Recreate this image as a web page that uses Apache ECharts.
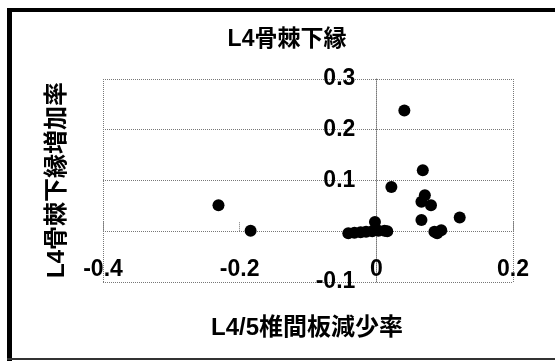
<!DOCTYPE html>
<html>
<head>
<meta charset="utf-8">
<script src="https://cdn.jsdelivr.net/npm/echarts@6/dist/echarts.min.js"></script>
<style>html,body{margin:0;padding:0;background:#fff}#c{width:555px;height:361px}</style>
</head>
<body>
<div id="c"></div>
<script>
var titleText = 'L4骨棘下縁';
var xName = 'L4/5椎間板減少率';
var yName = 'L4骨棘下縁増加率';
var xValues = [-0.231, -0.184, -0.041, -0.032, -0.023, -0.015, -0.006, 0.003, 0.012, 0.016, -0.002, 0.022, 0.041, 0.068, 0.071, 0.066, 0.080, 0.066, 0.122, 0.085, 0.095, 0.089];
var yValues = [0.051, 0.001, -0.004, -0.003, -0.002, -0.001, 0.000, 0.001, 0.001, 0.000, 0.018, 0.087, 0.238, 0.120, 0.071, 0.058, 0.051, 0.022, 0.027, -0.001, 0.002, -0.004];
var xTicks = [-0.4, -0.2, 0, 0.2];
var yTicks = [-0.1, 0, 0.1, 0.2, 0.3];

var pts = xValues.map(function (x, i) { return [x, yValues[i]]; });
var FONT = "'Liberation Sans','Noto Sans CJK JP',sans-serif";
var grid = '#777';

var G = { left: 103, right: 42, top: 79, bottom: 79 };
var W = 555 - G.left - G.right, H = 361 - G.top - G.bottom;
var xMin = xTicks[0], xMax = xTicks[xTicks.length - 1];
var yMin = yTicks[0], yMax = yTicks[yTicks.length - 1];
// offsets so the axes sit at the zero crossing
var yAxisOffset = -W * (0 - xMin) / (xMax - xMin);
var xAxisOffset = -H * (0 - yMin) / (yMax - yMin);

var chart = echarts.init(document.getElementById('c'));
chart.setOption({
  backgroundColor: '#fff',
  animation: false,
  grid: G,
  xAxis: [{
    type: 'value', min: xMin, max: xMax, interval: 0.2,
    position: 'bottom', offset: xAxisOffset,
    axisLine: { show: false, onZero: false },
    axisTick: { show: true, inside: true, length: 9, lineStyle: { color: grid, type: 'dotted' } },
    splitLine: { show: false },
    axisLabel: { margin: 27, fontSize: 23, fontWeight: 'bold', color: '#000', fontFamily: FONT,
      formatter: function (v) { return String(Math.round(v * 10) / 10); } }
  }, {
    type: 'value', min: xMin, max: xMax, interval: 0.4,
    position: 'top',
    axisLine: { show: false, onZero: false }, axisTick: { show: false }, axisLabel: { show: false },
    splitLine: { show: true, lineStyle: { color: grid, type: 'dotted', width: 1 } }
  }],
  yAxis: {
    type: 'value', min: yMin, max: yMax, interval: 0.1,
    position: 'left', offset: yAxisOffset,
    axisLine: { show: true, onZero: false, lineStyle: { color: grid, type: 'dotted' } },
    axisTick: { show: false },
    splitLine: { show: true, lineStyle: { color: grid, type: 'dotted', width: 1 } },
    axisLabel: { margin: 21, fontSize: 23, fontWeight: 'bold', color: '#000', fontFamily: FONT,
      formatter: function (v) { var r = Math.round(v * 10) / 10; return r === 0 ? '' : String(r); } }
  },
  series: [{
    type: 'scatter', xAxisIndex: 0, data: pts, symbolSize: 12,
    itemStyle: { color: '#000', opacity: 1 }, z: 5
  }],
  graphic: [
    { type: 'rect', shape: { x: 7, y: 8, width: 5, height: 353 }, style: { fill: '#000' } },
    { type: 'rect', shape: { x: 7, y: 8, width: 548, height: 4 }, style: { fill: '#000' } },
    { type: 'rect', shape: { x: 7, y: 358, width: 548, height: 2 }, style: { fill: '#333' } },
    { type: 'text', x: 287, y: 40, style: { text: titleText, fontSize: 23, fontWeight: 'bold', fill: '#000', fontFamily: FONT, textAlign: 'center', textVerticalAlign: 'middle' } },
    { type: 'text', x: 307, y: 328, style: { text: xName, fontSize: 24, fontWeight: 'bold', fill: '#000', fontFamily: FONT, textAlign: 'center', textVerticalAlign: 'middle' } },
    { type: 'text', x: 57, y: 180, rotation: Math.PI / 2, style: { text: yName, fontSize: 24, fontWeight: 'bold', fill: '#000', fontFamily: FONT, textAlign: 'center', textVerticalAlign: 'middle' } }
  ]
});
</script>
</body>
</html>
